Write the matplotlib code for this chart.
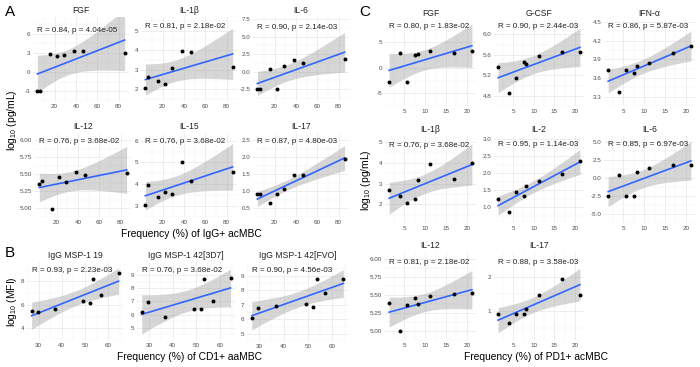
import numpy as np
import matplotlib
matplotlib.use('Agg')
import matplotlib.pyplot as plt

plt.rcParams['font.family'] = ['Liberation Sans', 'DejaVu Sans']
plt.rcParams['mathtext.fontset'] = 'custom'
plt.rcParams['mathtext.rm'] = 'Liberation Sans'
plt.rcParams['axes.unicode_minus'] = False

W, H = 700, 367

# ---- data ----
x_igg_acmbc = [4, 6, 15.5, 22, 29, 38.5, 47, 85.5]
a_fgf = [-2.95, -2.95, 2.9, 2.5, 2.65, 3.3, 3.3, 3.0]
a_il1b = [2.05, 2.65, 2.4, 2.25, 3.1, 3.95, 3.9, 3.15]
a_il6 = [-2.5, -2.5, 0.3, -2.5, 0.8, 1.6, 1.25, 1.75]
a_il12 = [5.36, 5.40, 4.99, 5.47, 5.39, 5.53, 5.49, 5.52]
a_il15 = [3.03, 3.95, 3.4, 3.65, 3.55, 5.0, 4.15, 4.55]
a_il17 = [0.92, 0.92, 0.66, 0.91, 1.07, 1.48, 1.48, 1.95]

x_cd1_aambc = [27, 29.7, 37, 49, 52, 53.5, 57, 64.5]
b_msp19 = [5.45, 5.4, 5.6, 6.3, 6.15, 8.2, 6.8, 8.7]
b_3d7 = [6.2, 6.95, 5.8, 6.4, 6.4, 8.7, 7.05, 8.8]
b_fvo = [6.1, 6.8, 6.9, 7.05, 6.85, 8.8, 7.8, 8.8]

x_pd1_acmbc = [1.4, 4.1, 5.7, 7.7, 8.2, 11.2, 16.9, 21.2]
c_fgf = [-2.85, 2.9, -2.85, 2.45, 2.7, 3.3, 2.9, 3.3]
c_gcsf = [5.37, 4.86, 5.15, 5.46, 5.43, 5.58, 5.66, 5.66]
c_ifna = [3.72, 3.37, 3.72, 3.68, 3.79, 3.84, 4.0, 4.12]
c_il1b = [2.68, 2.4, 2.05, 2.25, 3.15, 3.93, 3.2, 4.0]
c_il2 = [1.23, 0.85, 1.46, 1.34, 1.62, 1.78, 1.97, 2.36]
c_il6 = [-2.45, 0.45, -2.45, -2.45, 0.85, 1.35, 1.85, 1.75]
c_il12 = [5.39, 5.0, 5.36, 5.46, 5.38, 5.49, 5.52, 5.53]
c_il17 = [0.9, 0.63, 0.9, 0.9, 1.05, 1.46, 1.93, 1.46]

# title, x, y, stats label, panel rect in px (x0, y0, x1, y1), xlim, xticks, ylim, yticks, label y px
panels = [
    ('FGF', x_igg_acmbc, a_fgf, 'R = 0.84, p = 4.04e-05', (33, 17, 129, 101), (-0.1, 89.6), [20, 40, 60, 80], (-3.58, 8.61), [-3, 0, 3, 6], 32),
    ('IL-1β', x_igg_acmbc, a_il1b, 'R = 0.81, p = 2.18e-02', (141, 17, 237, 101), (-0.1, 89.6), [20, 40, 60, 80], (1.40, 5.70), [2, 3, 4, 5], 27),
    ('IL-6', x_igg_acmbc, a_il6, 'R = 0.90, p = 2.14e-03', (253, 17, 349, 101), (-0.1, 89.6), [20, 40, 60, 80], (-4.22, 7.83), [-2.5, 0, 2.5, 5, 7.5], 28),
    ('IL-12', x_igg_acmbc, a_il12, 'R = 0.76, p = 3.68e-02', (35, 133, 131, 217), (-0.1, 89.6), [20, 40, 60, 80], (4.89, 6.11), [5, 5.25, 5.5, 5.75, 6], 142),
    ('IL-15', x_igg_acmbc, a_il15, 'R = 0.76, p = 3.68e-02', (141, 133, 237, 217), (-0.1, 89.6), [20, 40, 60, 80], (2.56, 6.35), [3, 4, 5, 6], 142),
    ('IL-17', x_igg_acmbc, a_il17, 'R = 0.87, p = 4.80e-03', (253, 133, 349, 217), (-0.1, 89.6), [20, 40, 60, 80], (0.40, 2.71), [0.5, 1, 1.5, 2, 2.5], 142),
    ('IgG MSP-1 19', x_cd1_aambc, b_msp19, 'R = 0.93, p = 2.23e-03', (27, 262, 123, 340), (25.1, 66.4), [30, 40, 50, 60], (3.33, 9.64), [4, 6, 8], 271),
    ('IgG MSP-1 42[3D7]', x_cd1_aambc, b_3d7, 'R = 0.76, p = 3.68e-02', (137, 262, 235, 340), (25.1, 66.4), [30, 40, 50, 60], (4.07, 9.98), [5, 6, 7, 8, 9], 271),
    ('IgG MSP-1 42[FVO]', x_cd1_aambc, b_fvo, 'R = 0.90, p = 4.56e-03', (247, 262, 348, 341), (25.1, 66.4), [30, 40, 50, 60], (4.83, 9.95), [5, 6, 7, 8, 9], 271),
    ('FGF', x_pd1_acmbc, c_fgf, 'R = 0.80, p = 1.83e-02', (385, 20, 476, 106), (0.41, 22.19), [5, 10, 15, 20], (-5.34, 9.39), [-5, 0, 5], 27),
    ('G-CSF', x_pd1_acmbc, c_gcsf, 'R = 0.90, p = 2.44e-03', (494, 20, 584, 106), (0.41, 22.19), [5, 10, 15, 20], (4.675, 6.28), [4.8, 5.2, 5.6, 6.0], 27),
    ('IFN-α', x_pd1_acmbc, c_ifna, 'R = 0.86, p = 5.87e-03', (604, 20, 695, 106), (0.41, 22.19), [5, 10, 15, 20], (3.24, 4.53), [3.3, 3.6, 3.9, 4.2, 4.5], 27),
    ('IL-1β', x_pd1_acmbc, c_il1b, 'R = 0.76, p = 3.68e-02', (385, 136, 476, 223), (0.41, 22.19), [5, 10, 15, 20], (1.09, 5.30), [2, 3, 4, 5], 146),
    ('IL-2', x_pd1_acmbc, c_il2, 'R = 0.95, p = 1.14e-03', (494, 136, 584, 223), (0.41, 22.19), [5, 10, 15, 20], (0.54, 3.09), [1, 1.5, 2, 2.5, 3], 145),
    ('IL-6', x_pd1_acmbc, c_il6, 'R = 0.85, p = 6.97e-03', (604, 136, 695, 223), (0.41, 22.19), [5, 10, 15, 20], (-5.04, 5.84), [-5, -2.5, 0, 2.5, 5], 145),
    ('IL-12', x_pd1_acmbc, c_il12, 'R = 0.81, p = 2.18e-02', (385, 252, 476, 340), (0.41, 22.19), [5, 10, 15, 20], (4.90, 6.10), [5, 5.25, 5.5, 5.75, 6], 263),
    ('IL-17', x_pd1_acmbc, c_il17, 'R = 0.88, p = 3.58e-03', (494, 252, 584, 340), (0.41, 22.19), [5, 10, 15, 20], (0.14, 2.73), [1, 2], 263),
]


def fmt_ticks(ticks):
    dec = 0
    for t in ticks:
        s = ('%.4f' % t).rstrip('0').rstrip('.')
        if '.' in s:
            dec = max(dec, len(s.split('.')[1]))
    return [('%.' + str(dec) + 'f') % t for t in ticks]


def lm_band(x, y, xs, tval=2.447):
    x = np.asarray(x, float)
    y = np.asarray(y, float)
    b, a = np.polyfit(x, y, 1)
    n = len(x)
    s = np.sqrt(np.sum((y - (a + b * x)) ** 2) / (n - 2))
    se = s * np.sqrt(1 / n + (xs - x.mean()) ** 2 / np.sum((x - x.mean()) ** 2))
    fit = a + b * xs
    return fit, tval * se


fig = plt.figure(figsize=(W / 100, H / 100), dpi=100)

for title, x, y, lab, (x0, y0, x1, y1), xlim, xt, ylim, yt, ly in panels:
    ax = fig.add_axes([x0 / W, 1 - y1 / H, (x1 - x0) / W, (y1 - y0) / H])
    for sp in ax.spines.values():
        sp.set_visible(False)
    ax.set_xlim(*xlim)
    ax.set_ylim(*ylim)
    ax.set_xticks(xt)
    ax.set_yticks(yt)
    ax.set_yticklabels(fmt_ticks(yt))
    # minor grid halfway between majors
    dx = xt[1] - xt[0]
    dy = yt[1] - yt[0]
    ax.set_xticks(np.arange(xt[0] - dx / 2, xlim[1], dx), minor=True)
    ax.set_yticks(np.arange(yt[0] - dy / 2, ylim[1], dy), minor=True)
    ax.grid(True, which='major', color='#ebebeb', lw=0.6)
    ax.grid(True, which='minor', color='#f2f2f2', lw=0.35)
    ax.set_axisbelow(True)
    ax.tick_params(which='both', length=0, labelsize=4.5, labelcolor='#4d4d4d', pad=2)

    xs = np.linspace(min(x), max(x), 100)
    fit, ci = lm_band(x, y, xs)
    ax.fill_between(xs, fit - ci, fit + ci, color='#999999', alpha=0.4, lw=0, zorder=1)
    ax.plot(xs, fit, color='#3366FF', lw=1.2, zorder=2)
    ax.scatter(x, y, s=8, color='black', zorder=3, lw=0)

    ax.set_title(title, fontsize=6.2, color='#222222', pad=3)
    # stats label starts at the smallest x value
    ax.text(min(x), ylim[1] - (ly - y0) / (y1 - y0) * (ylim[1] - ylim[0]), lab,
            ha='left', va='center', fontsize=5.8, color='#222222', zorder=4)

# axis titles and panel letters
fig.text(12 / W, 1 - 120 / H, r'log$_{10}$ (pg/mL)', rotation=90, ha='center', va='center', fontsize=7.4)
fig.text(12 / W, 1 - 302 / H, r'log$_{10}$ (MFI)', rotation=90, ha='center', va='center', fontsize=7.4)
fig.text(366 / W, 1 - 180 / H, r'log$_{10}$ (pg/mL)', rotation=90, ha='center', va='center', fontsize=7.4)
fig.text(191 / W, 1 - 234 / H, 'Frequency (%) of IgG+ acMBC', ha='center', va='center', fontsize=7.4)
fig.text(190 / W, 1 - 357 / H, 'Frequency (%) of CD1+ aaMBC', ha='center', va='center', fontsize=7.4)
fig.text(536 / W, 1 - 357 / H, 'Frequency (%) of PD1+ acMBC', ha='center', va='center', fontsize=7.4)
fig.text(10 / W, 1 - 12 / H, 'A', ha='center', va='center', fontsize=11)
fig.text(10 / W, 1 - 253 / H, 'B', ha='center', va='center', fontsize=11)
fig.text(365 / W, 1 - 12 / H, 'C', ha='center', va='center', fontsize=11)

fig.savefig('out.png', dpi=100)
